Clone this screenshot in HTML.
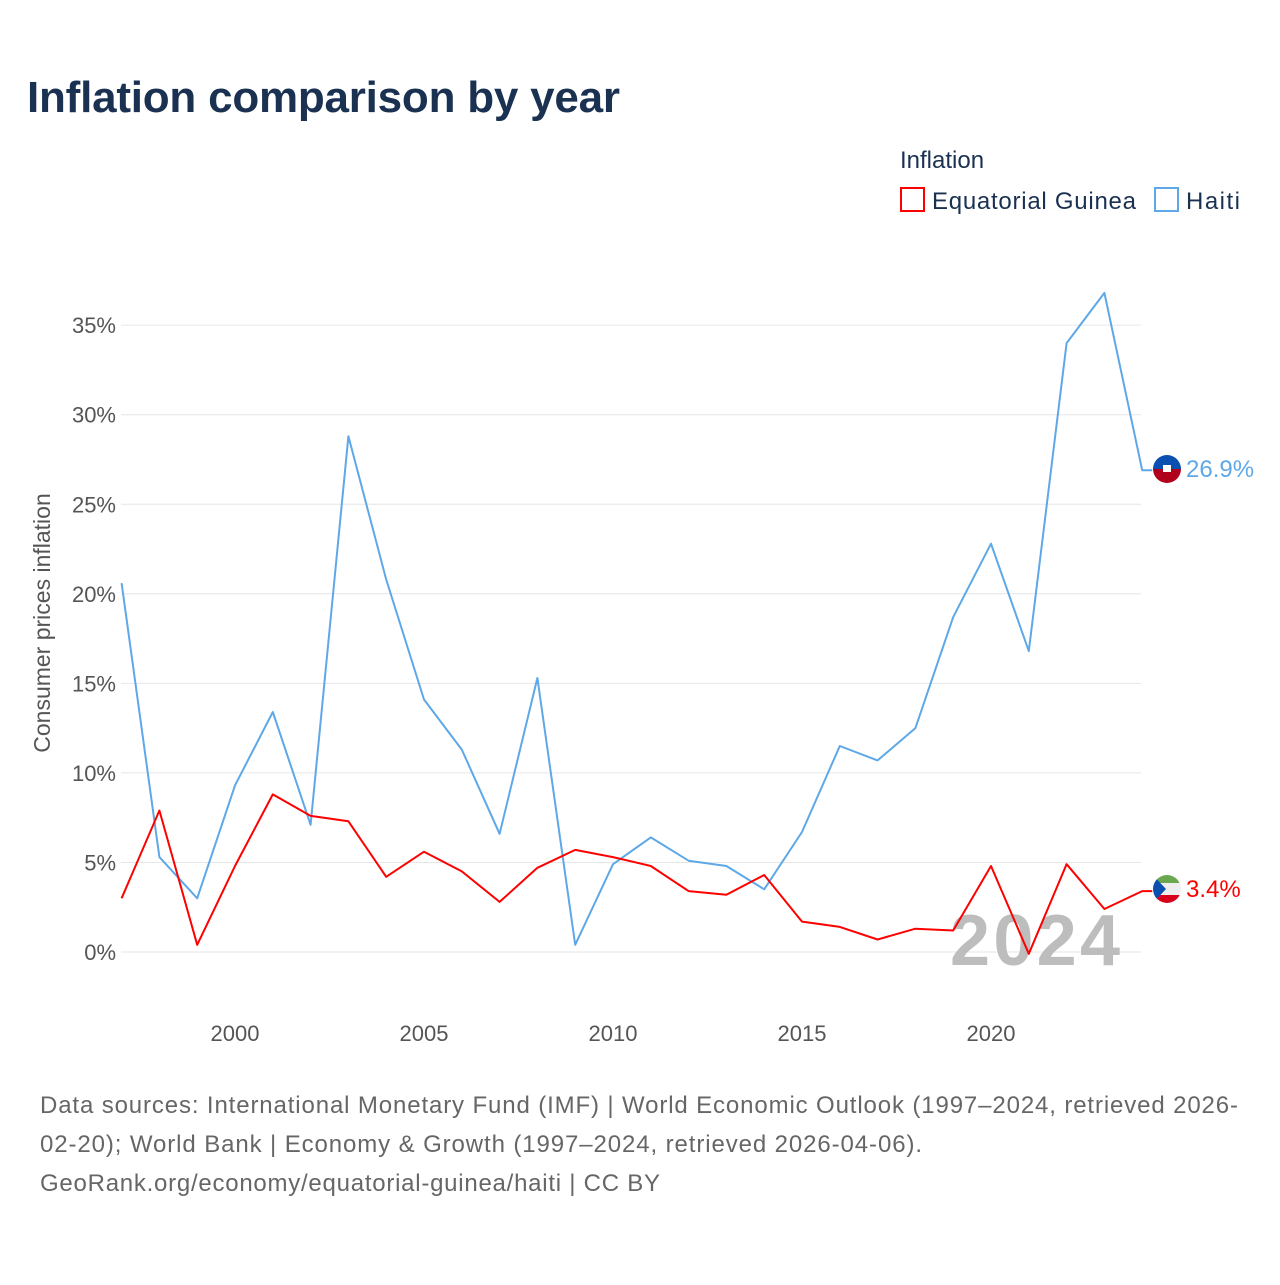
<!DOCTYPE html>
<html><head><meta charset="utf-8"><style>
body{margin:0;background:#fff;font-family:"Liberation Sans",sans-serif}
svg text{font-family:"Liberation Sans",sans-serif}
</style></head><body>
<svg width="1280" height="1280" viewBox="0 0 1280 1280">
<defs>
<clipPath id="c1"><circle cx="1167" cy="469" r="14"/></clipPath>
<clipPath id="c2"><circle cx="1167" cy="889" r="14"/></clipPath>
</defs>
<text x="27" y="112" font-size="44" font-weight="bold" fill="#1a3152" textLength="593">Inflation comparison by year</text>
<text x="900" y="168" font-size="24" fill="#1a3152">Inflation</text>
<g><rect x="901" y="188" width="23" height="23" fill="none" stroke="#f00" stroke-width="2"/><text x="932" y="209" font-size="24" fill="#1a3152" textLength="204">Equatorial Guinea</text></g>
<g><rect x="1155" y="188" width="23" height="23" fill="none" stroke="#5ea8e8" stroke-width="2"/><text x="1186" y="209" font-size="24" fill="#1a3152" textLength="54">Haiti</text></g>
<g id="grid"></g>
<g id="yt"></g>
<g id="xt"></g>
<text transform="translate(50,623) rotate(-90)" text-anchor="middle" font-size="23" fill="#555">Consumer prices inflation</text>
<text x="1120" y="965" text-anchor="end" font-size="72" font-weight="bold" fill="#bdbdbd" textLength="170">2024</text>
<g id="series"></g>
<g clip-path="url(#c1)"><rect x="1150" y="452" width="34" height="17" fill="#0b4fb0"/><rect x="1150" y="469" width="34" height="17" fill="#b1001c"/><rect x="1163" y="465" width="8" height="7" fill="#fff"/></g>
<g clip-path="url(#c2)"><rect x="1150" y="872" width="34" height="11" fill="#6aa84f"/><rect x="1150" y="883" width="34" height="12" fill="#eee"/><rect x="1150" y="895" width="34" height="11" fill="#d8001c"/><polygon points="1150,872 1166,889 1150,906" fill="#0b4fb0"/></g>
<text x="1186" y="477" font-size="24" fill="#5ea8e8">26.9%</text>
<text x="1186" y="897" font-size="24" fill="#f00">3.4%</text>
<g font-size="24" fill="#666">
<text x="40" y="1113" textLength="1198">Data sources: International Monetary Fund (IMF) | World Economic Outlook (1997–2024, retrieved 2026-</text>
<text x="40" y="1152" textLength="882">02-20); World Bank | Economy &amp; Growth (1997–2024, retrieved 2026-04-06).</text>
<text x="40" y="1191" textLength="620">GeoRank.org/economy/equatorial-guinea/haiti | CC BY</text>
</g>
</svg>
<script>
const years=[1997,1998,1999,2000,2001,2002,2003,2004,2005,2006,2007,2008,2009,2010,2011,2012,2013,2014,2015,2016,2017,2018,2019,2020,2021,2022,2023,2024];
const haiti=[20.6,5.3,3.0,9.3,13.4,7.1,28.8,20.8,14.1,11.3,6.6,15.3,0.4,4.9,6.4,5.1,4.8,3.5,6.7,11.5,10.7,12.5,18.7,22.8,16.8,34.0,36.8,26.9];
const eqg=[3.0,7.9,0.4,4.8,8.8,7.6,7.3,4.2,5.6,4.5,2.8,4.7,5.7,5.3,4.8,3.4,3.2,4.3,1.7,1.4,0.7,1.3,1.2,4.8,-0.1,4.9,2.4,3.4];
const yTicks=[0,5,10,15,20,25,30,35];
const xTicks=[2000,2005,2010,2015,2020];
const NS='http://www.w3.org/2000/svg';
const X=y=>121.6+(y-1997)*37.8;
const Y=v=>952-v*17.91;
function mk(t,a,p){const e=document.createElementNS(NS,t);for(const k in a)e.setAttribute(k,a[k]);p.appendChild(e);return e;}
const grid=document.getElementById('grid'),yt=document.getElementById('yt'),xt=document.getElementById('xt'),ser=document.getElementById('series');
yTicks.forEach(v=>{
 const l=mk('line',{x1:121,x2:1141,y1:Y(v),y2:Y(v),stroke:'#e6e6e6','stroke-width':1},grid);
 
 
 const t=mk('text',{x:116,y:Y(v)+8,'text-anchor':'end','font-size':22,fill:'#555'},yt);
 t.textContent=v+'%';
 
 
});
xTicks.forEach(v=>{
 const t=mk('text',{x:X(v),y:1041,'text-anchor':'middle','font-size':22,fill:'#555'},xt);
 t.textContent=v;
 
 
});
function line(vals,col,name){
 let d=vals.map((v,i)=>(i?'L':'M')+X(years[i]).toFixed(1)+','+Y(v).toFixed(1)).join('');
 d+='L'+(X(years[years.length-1])+10)+','+Y(vals[vals.length-1]).toFixed(1);
 const p=mk('path',{d:d,fill:'none',stroke:col,'stroke-width':2,'stroke-linejoin':'round'},ser);
 
 
}
line(haiti,'#5ea8e8','haiti-line');
line(eqg,'#f00','equatorial-guinea-line');
</script>
</body></html>
